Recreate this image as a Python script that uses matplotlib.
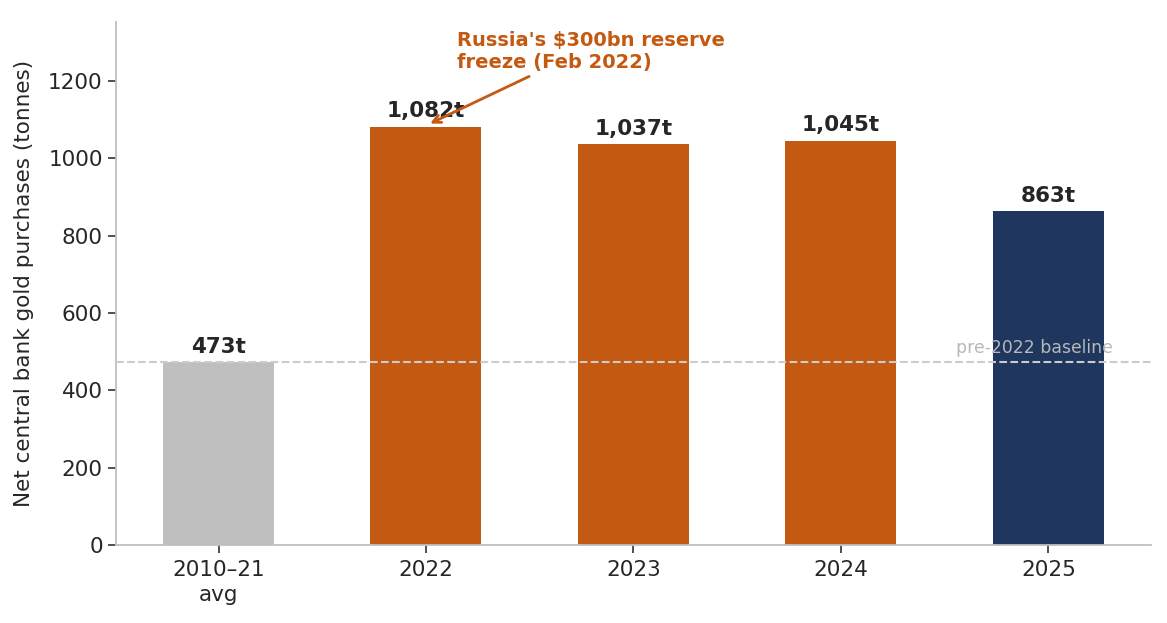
import matplotlib
matplotlib.use("Agg")
import matplotlib.pyplot as plt

categories = ["2010\u201321\navg", "2022", "2023", "2024", "2025"]
values = [473, 1082, 1037, 1045, 863]
labels = ["473t", "1,082t", "1,037t", "1,045t", "863t"]
colors = ["#bfbfbf", "#c45911", "#c45911", "#c45911", "#1f365f"]
baseline = 473

plt.rcParams['font.family'] = ['DejaVu Sans']
fig = plt.figure(figsize=(11.67, 6.23), dpi=100)
ax = fig.add_axes([0.0994, 0.1252, 0.8868, 0.8395])

x = list(range(len(categories)))
bars = ax.bar(x, values, width=0.535, color=colors, zorder=2)
for xi, v, lab in zip(x, values, labels):
    ax.text(xi, v + 14, lab, ha='center', va='bottom', fontsize=15.5,
            fontweight='bold', color='#262626', zorder=4)

ax.axhline(baseline, color='#cccccc', linestyle='--', linewidth=1.5, zorder=3)
ax.text(4.31, baseline + 12, "pre-2022 baseline", ha='right', va='bottom',
        fontsize=12.4, color='#b8b8b8', zorder=4)

ax.annotate("Russia's $300bn reserve\nfreeze (Feb 2022)",
            xy=(1.02, 1090), xytext=(1.15, 1222),
            ha='left', va='bottom', fontsize=14, fontweight='bold',
            color='#c45911',
            arrowprops=dict(arrowstyle='->', color='#c45911', lw=2,
                            relpos=(0.30, 0), shrinkA=2, shrinkB=0),
            zorder=5)

ax.set_ylim(0, 1352.5)
ax.set_xticks(x)
ax.set_xticklabels(categories, fontsize=15.5, color='#262626', linespacing=1.3)
ax.tick_params(axis='x', pad=5)
ax.tick_params(axis='y', labelsize=15.5, labelcolor='#262626')
ax.tick_params(axis='both', length=6, width=1.2, color='#333333')
ax.set_yticks([0, 200, 400, 600, 800, 1000, 1200])
ax.set_ylabel("Net central bank gold purchases (tonnes)", fontsize=15.5,
              color='#262626', labelpad=10)

for s in ['top', 'right']:
    ax.spines[s].set_visible(False)
for s in ['left', 'bottom']:
    ax.spines[s].set_color('#bfbfbf')
    ax.spines[s].set_linewidth(1.3)

fig.savefig("out.png", dpi=100)
